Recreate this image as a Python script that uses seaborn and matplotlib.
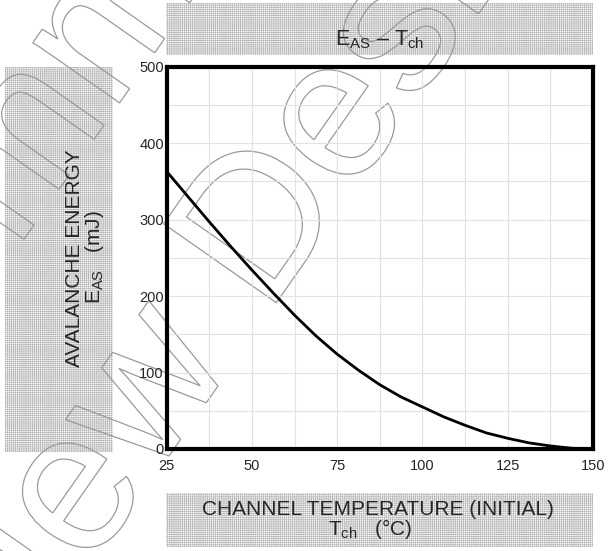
import matplotlib
matplotlib.use("Agg")
import matplotlib.pyplot as plt
import matplotlib.patheffects as pe
from matplotlib.patches import Rectangle
import seaborn as sns
import pandas as pd

# curve (channel temperature in degC, avalanche energy in mJ)
tch = [25, 31.25, 37.5, 43.75, 50, 56.25, 62.5, 68.75, 75, 81.25, 87.5,
       93.75, 100, 106.25, 112.5, 118.75, 125, 131.25, 137.5, 143.75, 150]
eas = [363, 330, 297, 265, 234, 204, 175, 148, 124, 103, 84,
       68, 55, 42, 31, 21, 14, 8, 4, 1, 0]

x_ticks = [25, 50, 75, 100, 125, 150]
x_minor = [37.5, 62.5, 87.5, 112.5, 137.5]
y_ticks = [0, 100, 200, 300, 400, 500]
y_minor = [50, 150, 250, 350, 450]

W, H = 609, 551


def fx(px):
    return px / W


def fy(py):
    return 1 - py / H


sns.set_style("white")
plt.rcParams["font.family"] = ["Liberation Sans", "DejaVu Sans"]
plt.rcParams["mathtext.fontset"] = "custom"
plt.rcParams["mathtext.rm"] = "Liberation Sans"
plt.rcParams["mathtext.it"] = "Liberation Sans:italic"
plt.rcParams["mathtext.bf"] = "Liberation Sans:bold"
plt.rcParams["hatch.linewidth"] = 0.5

fig = plt.figure(figsize=(6.09, 5.51), dpi=100)
fig.patch.set_facecolor("white")


def hatch_box(x0, y0, x1, y1):
    r = Rectangle((fx(x0), fy(y1)), fx(x1) - fx(x0), fy(y0) - fy(y1),
                  transform=fig.transFigure, facecolor="white",
                  edgecolor="#b8b8b8", linewidth=0, hatch="++++++++", zorder=1)
    fig.add_artist(r)


# gray screened label areas
hatch_box(166, 3, 593, 55)
hatch_box(5, 67, 113, 452)
hatch_box(166, 493, 593, 547)

ax = fig.add_axes([fx(166.7), fy(449), (593 - 166.7) / W, (449 - 66.7) / H])
ax.set_zorder(5)
ax.set_facecolor("none")

df = pd.DataFrame({"tch": tch, "eas": eas})
sns.lineplot(data=df, x="tch", y="eas", color="black", linewidth=2, ax=ax)

ax.set_xlim(25, 150)
ax.set_ylim(0, 500)
ax.set_xticks(x_ticks)
ax.set_xticks(x_minor, minor=True)
ax.set_yticks(y_ticks)
ax.set_yticks(y_minor, minor=True)
ax.grid(True, which="both", color="#e2e2e2", linewidth=0.8)
ax.set_axisbelow(True)
ax.tick_params(which="both", length=0, labelsize=10.5)
ax.tick_params(axis="x", pad=7)
ax.tick_params(axis="y", pad=2)
ax.set_xlabel("")
ax.set_ylabel("")
for s in ax.spines.values():
    s.set_visible(True)
    s.set_color("black")
    s.set_linewidth(3)

# titles and axis labels
fig.text(fx(380), fy(45), r"$\mathregular{E_{AS}}$ – $\mathregular{T_{ch}}$",
         ha="center", va="baseline", fontsize=15.5, zorder=6)
fig.text(fx(378), fy(515), "CHANNEL TEMPERATURE (INITIAL)",
         ha="center", va="baseline", fontsize=15, zorder=6)
fig.text(fx(370), fy(535), r"$\mathregular{T_{ch}}$   (°C)",
         ha="center", va="baseline", fontsize=15, zorder=6)
fig.text(fx(80), fy(258), "AVALANCHE ENERGY", rotation=90, rotation_mode="anchor",
         ha="center", va="baseline", fontsize=15, zorder=6)
fig.text(fx(100), fy(257), r"$\mathregular{E_{AS}}$   (mJ)", rotation=90,
         rotation_mode="anchor", ha="center", va="baseline", fontsize=15, zorder=6)

# outlined watermark
outline = [pe.PathPatchEffect(facecolor="none", edgecolor="#9a9a9a", linewidth=0.9)]
fig.text(fx(232), fy(366), "for New Design", rotation=55, rotation_mode="anchor",
         ha="center", va="baseline", fontsize=144, path_effects=outline, zorder=3)
fig.text(fx(32), fy(228), "Not Recommended", rotation=55, rotation_mode="anchor",
         ha="center", va="baseline", fontsize=144, path_effects=outline, zorder=3)

fig.savefig("out.png", dpi=100)
